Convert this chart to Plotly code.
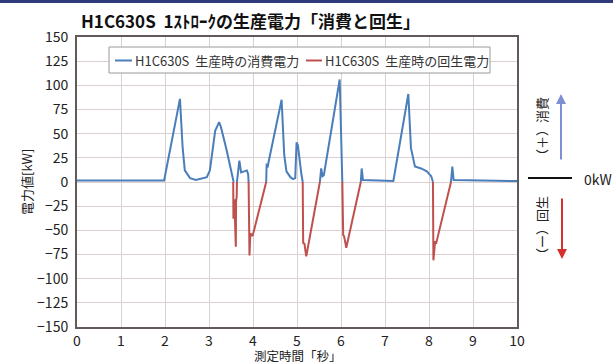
import plotly.graph_objects as go

# ---- data ----
consume_x = [0, 1.0, 1.98, 2.34, 2.40, 2.45, 2.57, 2.70, 2.95, 3.02, 3.14, 3.23, 3.27, 3.40, 3.51, 3.55, 3.56,
             None,
             3.635, 3.69, 3.73, 3.78, 3.86, 3.89, 3.90,
             None,
             4.30, 4.31, 4.33, 4.36, 4.65, 4.71, 4.76, 4.85, 4.91, 4.96, 4.99, 5.02, 5.10, 5.13,
             None,
             5.52, 5.55, 5.58, 5.61, 5.97, 6.01, 6.03,
             None,
             6.45, 6.47, 6.50, 6.70, 7.19, 7.53, 7.59, 7.68, 7.82, 7.95, 8.05, 8.09,
             None,
             8.50, 8.53, 8.56, 9.20, 10.0]
consume_y = [1.5, 1.5, 1.5, 86, 36, 12, 4, 2, 5, 12, 53, 62, 57, 33, 12, 4, 0,
             None,
             0, 22, 10, 11, 12, 8, 0,
             None,
             0, 19, 15, 22, 85, 28, 11, 5, 3, 4, 41, 38, 8, 0,
             None,
             0, 14, 6, 7, 106, 15, 0,
             None,
             0, 14, 2, 1.5, 1, 91, 35, 16, 14, 11, 6, 0,
             None,
             0, 16, 2, 1.5, 1]

regen_x = [3.55, 3.555, 3.575, 3.585, 3.61, 3.615, 3.63, 3.635,
           None,
           3.90, 3.92, 3.94, 3.99, 4.30,
           None,
           5.13, 5.14, 5.17, 5.21, 5.52,
           None,
           6.03, 6.04, 6.05, 6.07, 6.12, 6.45,
           None,
           8.09, 8.10, 8.14, 8.16, 8.50]
regen_y = [0, -38, -18, -30, -67, -20, -15, 0,
           None,
           0, -76, -53, -56, 0,
           None,
           0, -63, -64, -77, 0,
           None,
           0, -36, -55, -56, -68, 0,
           None,
           0, -81, -61, -64, 0]

x_ticks = list(range(0, 11))
y_ticks = list(range(-150, 151, 25))

title_text = "H1C630S  1ｽﾄﾛｰｸの生産電力「消費と回生」"
name_consume = "H1C630S  生産時の消費電力"
name_regen = "H1C630S  生産時の回生電力"
x_title = "測定時間「秒」"
y_title = "電力値[kW]"

FONT = "Noto Sans CJK JP"
BLUE = "#4A7EBB"
RED = "#C0504D"
GRID = "#DCCFCF"
FRAME = "#625a5a"

fig = go.Figure()
fig.add_trace(go.Scatter(x=consume_x, y=consume_y, mode="lines", name=name_consume,
                         line=dict(color=BLUE, width=2), connectgaps=False, showlegend=False))
fig.add_trace(go.Scatter(x=regen_x, y=regen_y, mode="lines", name=name_regen,
                         line=dict(color=RED, width=2), connectgaps=False, showlegend=False))

fig.update_layout(
    width=613, height=363,
    margin=dict(l=77, r=96, t=37, b=36),
    paper_bgcolor="white", plot_bgcolor="white",
    font=dict(family=FONT, size=13, color="#222"),
    showlegend=False,
)
fig.update_xaxes(range=[0, 10], tickvals=x_ticks, showgrid=True, gridcolor=GRID, gridwidth=1,
                 showline=True, linecolor=FRAME, linewidth=2, mirror=True, zeroline=False,
                 ticks="", tickfont=dict(family=FONT, size=14, color="#222"))
fig.update_yaxes(range=[-150, 150], tickvals=y_ticks, showgrid=True, gridcolor=GRID, gridwidth=1,
                 showline=True, linecolor=FRAME, linewidth=2, mirror=True, zeroline=False,
                 ticks="", ticklabelstandoff=4, tickfont=dict(family=FONT, size=14, color="#222"))

def px_x(p):
    return (p - 77) / 440.0

def px_y(p):
    return (327 - p) / 290.0

annotations = [
    dict(text=f"<b>{title_text}</b>", x=px_x(79), y=px_y(20), xref="paper", yref="paper",
         xanchor="left", yanchor="middle", showarrow=False, font=dict(family=FONT, size=17, color="#111")),
    dict(text=x_title, x=px_x(298), y=px_y(355.5), xref="paper", yref="paper", xanchor="center",
         yanchor="middle", showarrow=False, font=dict(family=FONT, size=12.5, color="#222")),
    dict(text=y_title, x=px_x(26), y=px_y(182), xref="paper", yref="paper", xanchor="center",
         yanchor="middle", textangle=-90, showarrow=False, font=dict(family=FONT, size=13, color="#222")),
    dict(text="（＋）消費", x=px_x(541), y=px_y(130), xref="paper", yref="paper", xanchor="center",
         yanchor="middle", textangle=-90, showarrow=False, font=dict(family=FONT, size=13, color="#222")),
    dict(text="（ー）回生", x=px_x(541), y=px_y(229), xref="paper", yref="paper", xanchor="center",
         yanchor="middle", textangle=-90, showarrow=False, font=dict(family=FONT, size=13, color="#222")),
    dict(text="0kW", x=px_x(582), y=px_y(179), xref="paper", yref="paper", xanchor="left",
         yanchor="middle", showarrow=False, font=dict(family=FONT, size=14, color="#222")),
    # legend texts
    dict(text=name_consume, x=px_x(133), y=px_y(60.5), xref="paper", yref="paper", xanchor="left",
         yanchor="middle", showarrow=False, font=dict(family=FONT, size=13, color="#333")),
    dict(text=name_regen, x=px_x(323), y=px_y(60.5), xref="paper", yref="paper", xanchor="left",
         yanchor="middle", showarrow=False, font=dict(family=FONT, size=13, color="#333")),
    # arrows
    dict(text="", x=px_x(561), y=px_y(94), xref="paper", yref="paper", ax=0, ay=67,
         showarrow=True, arrowhead=2, arrowsize=1, arrowwidth=2, arrowcolor="#7F8FD4"),
    dict(text="", x=px_x(562), y=px_y(259), xref="paper", yref="paper", ax=0, ay=-62,
         showarrow=True, arrowhead=2, arrowsize=1, arrowwidth=2, arrowcolor="#D6302E"),
]
fig.update_layout(annotations=annotations)

fig.update_layout(shapes=[
    # legend box and samples
    dict(type="rect", xref="paper", yref="paper", x0=px_x(109), x1=px_x(490),
         y0=px_y(73), y1=px_y(47), line=dict(color="#9a9a9a", width=1), fillcolor="white", layer="above"),
    dict(type="line", xref="paper", yref="paper", x0=px_x(115), x1=px_x(132),
         y0=px_y(60.5), y1=px_y(60.5), line=dict(color=BLUE, width=2)),
    dict(type="line", xref="paper", yref="paper", x0=px_x(306), x1=px_x(322),
         y0=px_y(60.5), y1=px_y(60.5), line=dict(color=RED, width=2)),
    # zero marker on the right
    dict(type="line", xref="paper", yref="paper", x0=px_x(528), x1=px_x(572),
         y0=px_y(178), y1=px_y(178), line=dict(color="#111", width=2)),
    # top band
    dict(type="rect", xref="paper", yref="paper", x0=px_x(0), x1=px_x(613),
         y0=px_y(3), y1=px_y(0), line=dict(width=0), fillcolor="#2E3B7A"),
])

fig.write_html("out.html", config={"displayModeBar": False},
               post_script="document.body.style.margin='0px';document.body.style.padding='0px';")
